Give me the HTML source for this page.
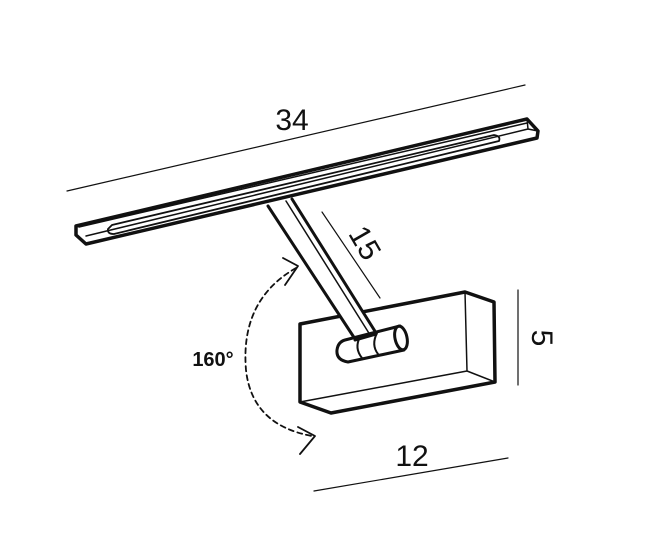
<!DOCTYPE html>
<html><head><style>body{margin:0;background:#fff}svg{display:block}</style></head><body>
<svg width="669" height="553" viewBox="0 0 669 553" xmlns="http://www.w3.org/2000/svg" font-family="Liberation Sans, sans-serif">
<g stroke="#111" fill="none" stroke-linecap="round" stroke-linejoin="round">
<!-- dimension lines -->
<line x1="67" y1="191" x2="525" y2="85" stroke-width="1.2"/>
<line x1="322" y1="212" x2="380" y2="298" stroke-width="1.2"/>
<line x1="518" y1="290" x2="518" y2="385" stroke-width="1.2"/>
<line x1="314" y1="491" x2="508" y2="458" stroke-width="1.2"/>
<!-- box -->
<path d="M300 324 L465 292 L494 302 L495 382 L331 413 L300 402 Z" fill="#fff" stroke-width="3.5"/>
<path d="M465 292 L467 371 L495 382 M467 371 L300 402" stroke-width="1.5"/>
<!-- arm -->
<path d="M268 206 L292 199 L378 336 L357 342 Z" fill="#fff" stroke="none"/>
<path d="M268 206 L357 342 M292 199 L378 336" stroke-width="3"/>
<path d="M286 201 L372 338" stroke-width="1.5"/>
<!-- bar -->
<path d="M76 226 L527 119 L538 131 L537 138 L86 244 L76 235 Z" fill="#fff" stroke-width="3.5"/>
<path d="M79 227 L527 123 M527 119 L528 129 L538 131 M528 129 L86 236" stroke-width="1.5"/>
<path d="M112 225 L494 135 Q501 136 499 141 L114 234 Q107 234 108 229 Z" stroke-width="1.8"/>
<!-- cylinder -->
<path d="M345 340 L400 326 L404 350 L348 362 Q336 360 337 350 Q338 342 345 340 Z" fill="#fff" stroke-width="3"/>
<ellipse cx="401" cy="338" rx="6" ry="12" transform="rotate(-12 401 338)" fill="#fff" stroke-width="3"/>
<path d="M360 337 Q354 348 362 358 M377 333 Q371 345 378 354" stroke-width="2"/>
<path d="M355 340 L376 334" stroke-width="3"/>
<!-- dashed arc -->
<path d="M296 268 Q240 300 246 370 Q252 425 312 436" stroke-width="1.8" stroke-dasharray="5 4"/>
<path d="M283 258 L298 266 L285 285 M298 427 L315 436 L300 454" stroke-width="1.8"/>
</g>
<g fill="#111">
<text x="292" y="130" font-size="30" text-anchor="middle">34</text>
<text transform="translate(363,244) rotate(60)" font-size="30" text-anchor="middle" dominant-baseline="middle">15</text>
<text transform="translate(540,338) rotate(90)" font-size="30" text-anchor="middle" dominant-baseline="middle">5</text>
<text x="412" y="466" font-size="30" text-anchor="middle">12</text>
<text x="213" y="366" font-size="20" font-weight="bold" text-anchor="middle">160°</text>
</g>
</svg>
</body></html>
